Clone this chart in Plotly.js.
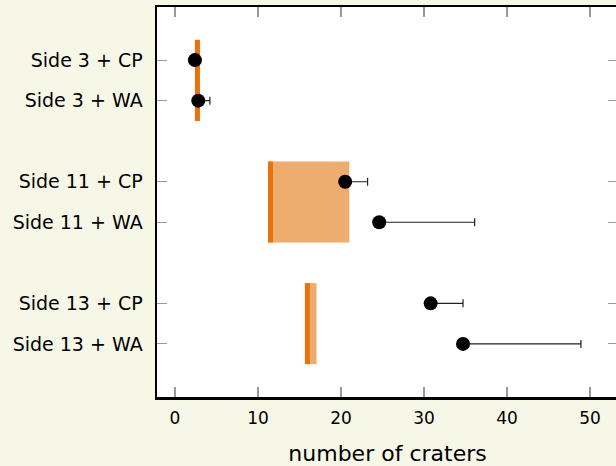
<!DOCTYPE html>
<html>
<head>
<meta charset="utf-8">
<script src="https://cdn.plot.ly/plotly-3.0.1.min.js"></script>
<style>
html,body{margin:0;padding:0;overflow:hidden;background:#f7f7e8;}
#chart{width:620px;height:466px;}
</style>
</head>
<body>
<div id="chart"></div>
<script>
// Data
const sides = ["Side 3", "Side 11", "Side 13"];
const methods = ["CP", "WA"];
// shaded range per side (min, max) and the dark reference value
const rangeMin = [2.4, 11.25, 15.7];
const rangeMax = [3.0, 21.0, 17.05];
const refValue = [2.7, 11.5, 15.95];
// points: order per side: CP, WA
const pointValue = [2.4, 2.8, 20.5, 24.6, 30.8, 34.7];
const pointUpper = [2.4, 4.2, 23.2, 36.1, 34.7, 48.9];
const xTicks = [0, 10, 20, 30, 40, 50];

const labels = [];
const yPos = [];
sides.forEach((s, g) => methods.forEach((m, i) => {
  labels.push(s + " + " + m);
  yPos.push(g * 3 + i);
}));

const light = "#eeac6f";
const dark = "#e8720c";
const traces = [];

// light range boxes
traces.push({
  type: "bar", orientation: "h",
  y: sides.map((s, g) => g * 3 + 0.5),
  base: rangeMin,
  x: rangeMin.map((v, g) => rangeMax[g] - v),
  width: sides.map(() => 2),
  marker: {color: light, line: {width: 0}},
  hoverinfo: "skip", showlegend: false
});
// dark reference lines
sides.forEach((s, g) => {
  traces.push({
    type: "scatter", mode: "lines",
    x: [refValue[g], refValue[g]],
    y: [g * 3 - 0.5, g * 3 + 1.5],
    line: {color: dark, width: 5},
    hoverinfo: "skip", showlegend: false
  });
});
// points with one-sided error bars
traces.push({
  type: "scatter", mode: "markers",
  x: pointValue, y: yPos,
  marker: {color: "#000", size: 14},
  error_x: {
    type: "data", symmetric: false,
    array: pointUpper.map((u, i) => u - pointValue[i]),
    arrayminus: pointValue.map(() => 0),
    color: "#222", thickness: 1.2, width: 4
  },
  showlegend: false
});

const layout = {
  width: 620, height: 466,
  margin: {l: 157, r: 2, t: 7, b: 69},
  paper_bgcolor: "#f7f7e8",
  plot_bgcolor: "#ffffff",
  font: {family: "DejaVu Sans", color: "#000", size: 17},
  barmode: "overlay",
  xaxis: {
    range: [-2.17, 53.37],
    tickvals: xTicks, ticktext: xTicks.map(String),
    ticks: "inside", ticklen: 10, tickcolor: "#999", tickwidth: 1.2,
    showline: true, linecolor: "#000", linewidth: 2.5, mirror: "ticks",
    showgrid: false, zeroline: false,
    tickfont: {size: 17},
    ticklabelstandoff: 4,
    title: {text: "number of craters", font: {size: 22}, standoff: 20}
  },
  yaxis: {
    range: [8.31, -1.31],
    tickvals: yPos, ticktext: labels,
    ticks: "inside", ticklen: 10, tickcolor: "#999", tickwidth: 1.2,
    showline: true, linecolor: "#000", linewidth: 2.5, mirror: "ticks",
    showgrid: false, zeroline: false,
    tickfont: {size: 19},
    ticklabelstandoff: 8
  }
};

Plotly.newPlot("chart", traces, layout, {displayModeBar: false, staticPlot: true});
</script>
</body>
</html>
